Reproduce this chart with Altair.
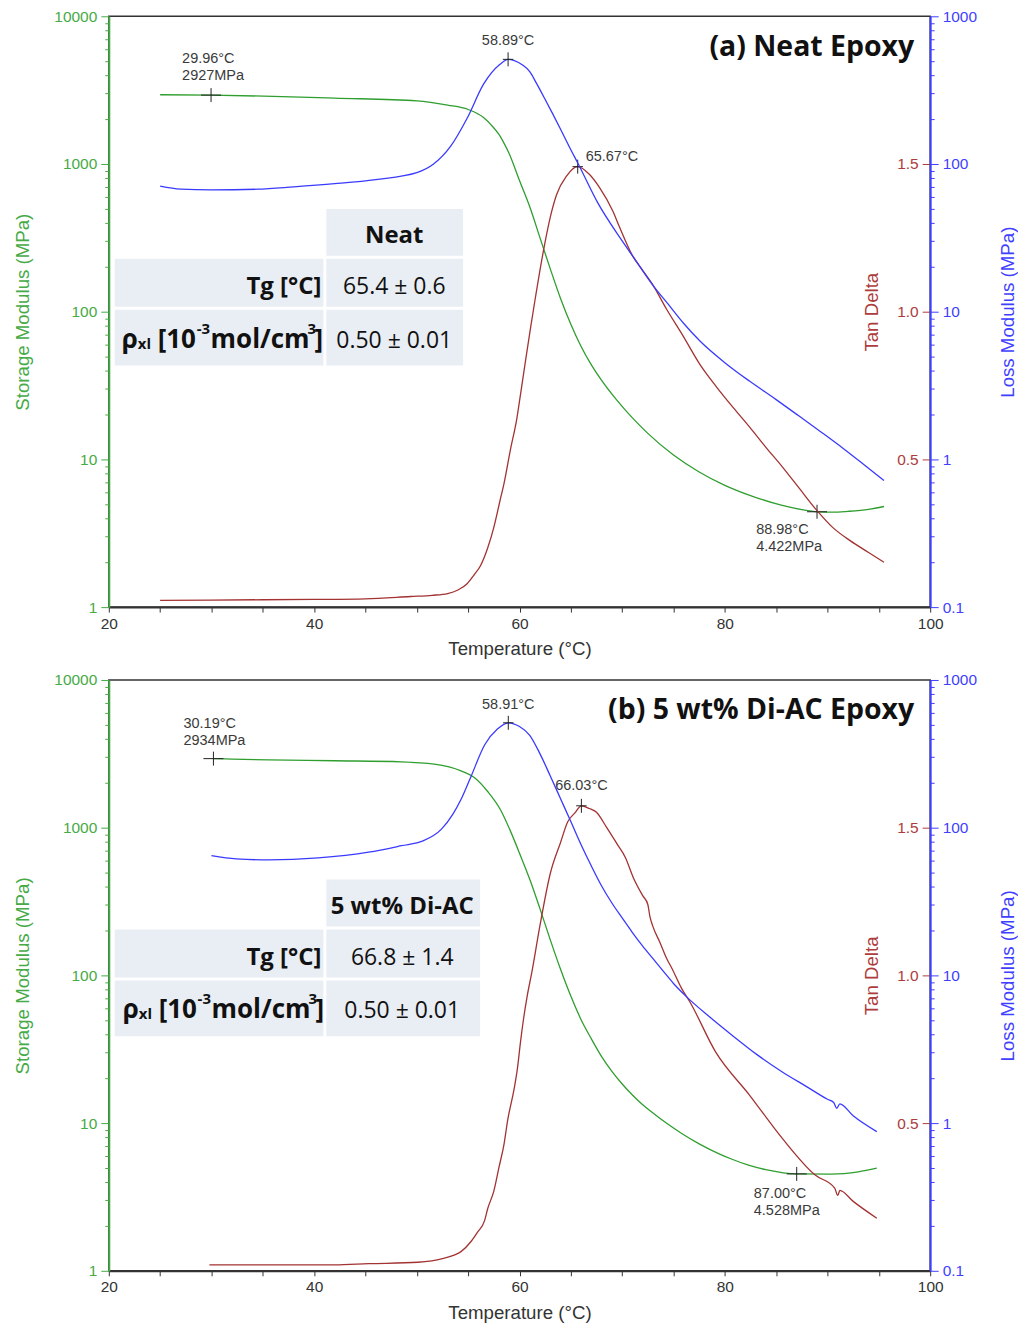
import altair as alt
import pandas as pd

# ---------------- data ----------------
# (a) Neat epoxy
a_storage_T = [25, 30, 36, 42, 50, 53, 55, 56.5, 57.3, 58, 58.5, 59, 60, 61, 62, 63, 64, 65, 66, 67, 68,
               69.5, 71, 72.5, 75, 77.5, 80, 82.5, 85.5, 87.5, 89, 90.5, 92, 94, 95.5]
a_storage_E = [2944, 2927, 2871, 2793, 2679, 2506, 2339, 2065, 1820, 1585, 1380, 1175, 773, 513, 316, 195,
               123, 82.2, 58.2, 43.7, 34.3, 25.1, 19.1, 15.0, 10.7, 8.22, 6.68, 5.69, 4.90, 4.57, 4.42,
               4.39, 4.45, 4.59, 4.80]
a_loss_T = [25, 27, 30, 34.5, 38, 42, 46, 50, 51.6, 53.3, 54.9, 56.5, 58.1, 58.89, 59.5, 60.3, 61, 61.7,
            62.4, 63.2, 64, 64.8, 65.8, 67.6, 69.8, 71.1, 73, 74.5, 76, 77.6, 80, 82.4, 85, 87.3, 89.5,
            91.5, 93.5, 95.5]
a_loss_E = [70.8, 67.6, 66.8, 67.5, 70.0, 73.6, 78.5, 87.3, 99.5, 132, 204, 347, 473, 511, 501, 468, 422,
            347, 282, 221, 172, 133, 97.7, 55.0, 31.6, 23.4, 15.1, 11.2, 8.32, 6.31, 4.52, 3.39, 2.54,
            1.95, 1.51, 1.19, 0.927, 0.719]
a_tan_T = [25, 30, 35, 40, 45, 49.4, 51.5, 53, 54, 54.9, 55.6, 56.2, 56.9, 57.5, 58.1, 58.5, 59.1, 59.75,
           60.1, 60.7, 61.1, 61.5, 62.3, 63.0, 63.6, 64.6, 65.67, 66.8, 67.8, 69.1, 69.7, 71.0, 72.0,
           73.0, 74.3, 75.9, 77.6, 79.2, 80.8, 82.4, 84.0, 85.6, 87.3, 88.9, 90.5, 92.2, 94.0, 95.5]
a_tan_D = [0.023, 0.024, 0.025, 0.026, 0.028, 0.036, 0.040, 0.046, 0.058, 0.079, 0.11, 0.14, 0.20, 0.27,
           0.36, 0.42, 0.53, 0.64, 0.72, 0.86, 0.95, 1.037, 1.20, 1.32, 1.395, 1.46, 1.491, 1.465, 1.42,
           1.34, 1.29, 1.19, 1.14, 1.09, 1.01, 0.92, 0.82, 0.745, 0.676, 0.61, 0.541, 0.475, 0.40, 0.33,
           0.27, 0.225, 0.185, 0.152]

# (b) 5 wt% Di-AC epoxy
b_storage_T = [30.19, 32, 35.6, 42, 48.5, 51.7, 54.3, 55.6, 56.9, 58.2, 59.1, 60.1, 61, 62, 63, 64, 65, 66,
               67, 68, 69, 70, 71, 72, 73, 74.3, 75.8, 77.5, 79.5, 80.7, 82.3, 84, 87, 90.4, 93, 94.8]
b_storage_E = [2934, 2911, 2877, 2838, 2793, 2692, 2427, 2188, 1758, 1303, 955, 646, 447, 282, 174, 110,
               72.4, 50.1, 37.2, 28.2, 22.4, 18.4, 15.5, 13.3, 11.7, 10.0, 8.51, 7.24, 6.17, 5.69, 5.19,
               4.84, 4.53, 4.52, 4.68, 4.95]
b_loss_T = [30, 32.4, 35.6, 40.4, 45.3, 48.5, 50.6, 52.4, 53.5, 54.3, 55.3, 56.6, 57.85, 58.91, 60, 61, 62,
            63, 64, 65, 66, 67, 68, 69, 70, 71, 72, 73, 74, 75, 76.2, 78.5, 80.7, 83.1, 85.6, 88, 90,
            90.6, 90.9, 91.2, 92.5, 94.8]
b_loss_E = [64.7, 61.5, 60.5, 62.4, 68.2, 75.5, 81.3, 97.7, 123, 155, 224, 363, 465, 513, 484, 422, 316,
            224, 157, 110, 76.7, 55.0, 40.3, 30.9, 24.5, 19.5, 15.8, 13.0, 10.7, 8.81, 7.24, 5.25, 3.94,
            2.92, 2.22, 1.76, 1.45, 1.38, 1.26, 1.35, 1.12, 0.875]
b_tan_T = [29.8, 35, 42, 45.3, 50.1, 52.7, 53.7, 54.3, 55.3, 55.9, 56.6, 56.9, 57.5, 58.0, 58.5, 58.85,
           59.5, 59.8, 60.1, 60.4, 60.75, 61.2, 62.0, 63.0, 64.0, 64.7, 65.4, 66.03, 66.8, 67.5, 68.5,
           69.5, 70.3, 71.1, 72.0, 72.5, 72.7, 73.0, 73.7, 74.3, 74.9, 75.8, 76.6, 79.1, 82.4, 85.6,
           88.8, 90.7, 91.0, 91.2, 92.5, 94.8]
b_tan_D = [0.020, 0.020, 0.020, 0.024, 0.029, 0.043, 0.054, 0.065, 0.10, 0.13, 0.17, 0.21, 0.27, 0.35,
           0.43, 0.51, 0.62, 0.685, 0.775, 0.854, 0.93, 1.01, 1.17, 1.345, 1.45, 1.52, 1.55, 1.574,
           1.565, 1.552, 1.50, 1.445, 1.40, 1.33, 1.27, 1.24, 1.20, 1.165, 1.11, 1.06, 1.02, 0.955,
           0.91, 0.741, 0.595, 0.448, 0.324, 0.28, 0.255, 0.272, 0.235, 0.178]

# marked points (temperature, value, label)
a_storage_marks = [(29.96, 2927, "29.96°C\n2927MPa"), (88.98, 4.422, "88.98°C\n4.422MPa")]
a_loss_mark = (58.89, 511, "58.89°C")
a_tan_mark = (65.67, 1.491, "65.67°C")
b_storage_marks = [(30.19, 2934, "30.19°C\n2934MPa"), (87.00, 4.528, "87.00°C\n4.528MPa")]
b_loss_mark = (58.91, 513, "58.91°C")
b_tan_mark = (66.03, 1.574, "66.03°C")

# inset tables
a_title = "(a) Neat Epoxy"
b_title = "(b) 5 wt% Di-AC Epoxy"
a_header, a_tg, a_rho = "Neat", "65.4 ± 0.6", "0.50 ± 0.01"
b_header, b_tg, b_rho = "5 wt% Di-AC", "66.8 ± 1.4", "0.50 ± 0.01"
tg_label = "Tg [°C]"
rho_pieces = ["ρ", "xl", "[10", "-3", "mol/cm", "3", "]"]

# ---------------- styling ----------------
W, H = 823, 592
GREEN_LINE, GREEN_AX = "#2f9e2f", "#46aa46"
RED_LINE, RED_AX = "#a33232", "#ad3c3c"
BLUE_LINE, BLUE_AX = "#3a3aff", "#3f3fff"
DARK = "#333333"
CELL = "#e9edf4"
AXFONT = "Liberation Sans"
TFONT = "Open Sans"

x_scale = alt.Scale(domain=[20, 100], nice=False, zero=False)
x_axis = alt.Axis(values=list(range(20, 101, 5)),
                  labelExpr="datum.value % 20 == 0 ? datum.label : ''",
                  title="Temperature (°C)", tickSize=5, labelPadding=4, domainColor=DARK,
                  domainWidth=2, tickColor=DARK, labelColor=DARK, titleColor=DARK, titlePadding=8)


def X():
    return alt.X("T:Q", scale=x_scale, axis=x_axis)


st_scale = alt.Scale(type="log", domain=[1, 10000], nice=False)
st_axis = alt.Axis(orient="left", values=[1, 10, 100, 1000, 10000], format="~g", tickSize=8,
                   labelPadding=4, domainColor=GREEN_AX, domainWidth=2, tickColor=GREEN_AX,
                   labelColor=GREEN_AX, title="Storage Modulus (MPa)", titleColor=GREEN_AX,
                   titlePadding=21)
st_minor = alt.Axis(orient="left", values=[m * 10 ** k for k in range(0, 4) for m in range(2, 10)],
                    labels=False, domain=False, tickSize=4, tickColor=GREEN_AX, title=None)

td_scale = alt.Scale(domain=[0, 2], nice=False, zero=False)
td_axis = alt.Axis(orient="left", offset=-W, values=[0.5, 1.0, 1.5], format=".1f", tickSize=8,
                   labelPadding=4, domain=False, tickColor=RED_AX, labelColor=RED_AX,
                   title="Tan Delta", titleColor=RED_AX, titlePadding=15)

lo_scale = alt.Scale(type="log", domain=[0.1, 1000], nice=False)
lo_axis = alt.Axis(orient="right", values=[0.1, 1, 10, 100, 1000], format="~g", tickSize=8,
                   labelPadding=4, domainColor=BLUE_AX, domainWidth=2, tickColor=BLUE_AX,
                   labelColor=BLUE_AX, title="Loss Modulus (MPa)", titleColor=BLUE_AX,
                   titleAngle=270, titleBaseline="top", titlePadding=22)
lo_minor = alt.Axis(orient="right", values=[round(m * 10 ** k, 6) for k in range(-1, 3) for m in range(2, 10)],
                    labels=False, domain=False, tickSize=4, tickColor=BLUE_AX, title=None)

CROSS_WIDE = "M-1,0L1,0M0,-0.7L0,0.7"
CROSS = "M-0.75,0L0.75,0M0,-1L0,1"


def dummy():
    return alt.Chart(alt.Data(values=[{"d": 0}]))


def line(T, V, y_enc, color):
    return alt.Chart(pd.DataFrame({"T": T, "v": V})).mark_line(
        color=color, strokeWidth=1.3, interpolate="monotone").encode(x=X(), y=y_enc)


def marker(T, V, y_enc, shape, size):
    return alt.Chart(pd.DataFrame({"T": [T], "v": [V]})).mark_point(
        shape=shape, size=size, filled=False, color="#222", strokeWidth=1, opacity=1
    ).encode(x=X(), y=y_enc)


def note(T, V, label, y_enc, align, dx, dy, baseline):
    return alt.Chart(pd.DataFrame({"T": [T], "v": [V], "label": [label]})).mark_text(
        align=align, baseline=baseline, dx=dx, dy=dy, lineBreak="\n", lineHeight=17,
        font=AXFONT, fontSize=14.5, color="#3a3a3a").encode(x=X(), y=y_enc, text="label:N")


def invisible(y_enc):
    return alt.Chart(pd.DataFrame({"v": [10.0]})).mark_point(opacity=0).encode(y=y_enc)


def rect(x0, y0, x1, y1):
    return dummy().mark_rect(color=CELL).encode(
        x=alt.value(x0), x2=alt.value(x1), y=alt.value(y0), y2=alt.value(y1))


def label(txt, x, y, align, size, weight):
    return dummy().mark_text(align=align, baseline="alphabetic", font=TFONT, fontSize=size,
                             fontWeight=weight, color="#111").encode(
        x=alt.value(x), y=alt.value(y), text=alt.value(txt))


def table(dy, right_x1, val_cx, header, tg, rho, rho_x0, main_bl, tg_bl, head_bl):
    layers = [
        rect(218, 193 + dy, right_x1, 240 + dy),
        rect(6, 243 + dy, 215, 291 + dy),
        rect(218, 243 + dy, right_x1, 291 + dy),
        rect(6, 294 + dy, 215, 350 + dy),
        rect(218, 294 + dy, right_x1, 350 + dy),
        label(header, val_cx, head_bl, "center", 24, "bold"),
        label(tg_label, 213, tg_bl, "right", 24, "bold"),
        label(tg, val_cx, tg_bl, "center", 23, "normal"),
        label(rho, val_cx, main_bl, "center", 23, "normal"),
    ]
    offs = [0, 16, 36, 75, 89, 186, 193]
    kinds = ["main", "sub", "main", "sup", "main", "sup", "main"]
    for txt, off, kind in zip(rho_pieces, offs, kinds):
        if kind == "main":
            layers.append(label(txt, rho_x0 + off, main_bl, "left", 26, "bold"))
        elif kind == "sub":
            layers.append(label(txt, rho_x0 + off, main_bl + 1, "left", 15, "bold"))
        else:
            layers.append(label(txt, rho_x0 + off, main_bl - 14, "left", 15, "bold"))
    return layers


def panel(sT, sE, lT, lE, tT, tD, s_marks, l_mark, t_mark, s_notes, l_note, t_note, title_txt, title_y, tbl):
    y_st = alt.Y("v:Q", scale=st_scale, axis=st_axis)
    y_td = alt.Y("v:Q", scale=td_scale, axis=td_axis)
    y_lo = alt.Y("v:Q", scale=lo_scale, axis=lo_axis)

    st_layers = [line(sT, sE, y_st, GREEN_LINE)]
    for (T, V, lab), (al, dx, dy, bl) in zip(s_marks, s_notes):
        st_layers.append(marker(T, V, y_st, CROSS_WIDE, 400))
        st_layers.append(note(T, V, lab, y_st, al, dx, dy, bl))
    td_layers = [line(tT, tD, y_td, RED_LINE), marker(t_mark[0], t_mark[1], y_td, CROSS, 196),
                 note(t_mark[0], t_mark[1], t_mark[2], y_td, *t_note)]
    lo_layers = [line(lT, lE, y_lo, BLUE_LINE), marker(l_mark[0], l_mark[1], y_lo, CROSS, 196),
                 note(l_mark[0], l_mark[1], l_mark[2], y_lo, *l_note)]

    title = dummy().mark_text(align="right", baseline="alphabetic", font=TFONT, fontWeight="bold",
                              fontSize=28.5, color="#111").encode(
        x=alt.value(807), y=alt.value(title_y), text=alt.value(title_txt))

    return alt.layer(
        alt.layer(*st_layers),
        invisible(alt.Y("v:Q", scale=st_scale, axis=st_minor)),
        alt.layer(*td_layers),
        alt.layer(*lo_layers),
        invisible(alt.Y("v:Q", scale=lo_scale, axis=lo_minor)),
        *tbl,
        title,
    ).resolve_scale(y="independent").properties(width=W, height=H)


pa = panel(a_storage_T, a_storage_E, a_loss_T, a_loss_E, a_tan_T, a_tan_D,
           a_storage_marks, a_loss_mark, a_tan_mark,
           [("left", -29, -29, "bottom"), ("left", -61, 11, "top")],
           ("center", 0, -11, "bottom"), ("left", 8, -3, "bottom"),
           a_title, 40,
           table(0, 355, 286, a_header, a_tg, a_rho, 13, 332, 278, 227))

pb = panel(b_storage_T, b_storage_E, b_loss_T, b_loss_E, b_tan_T, b_tan_D,
           b_storage_marks, b_loss_mark, b_tan_mark,
           [("left", -30, -28, "bottom"), ("left", -43, 13, "top")],
           ("center", 0, -11, "bottom"), ("center", 0, -13, "bottom"),
           b_title, 39,
           table(7, 372, 294, b_header, b_tg, b_rho, 14, 339, 286, 234))

chart = alt.vconcat(pa, pb, spacing=13).properties(
    padding={"left": 5, "top": -1, "right": 0, "bottom": 0}
).configure_axis(
    labelFont=AXFONT, titleFont=AXFONT, labelFontSize=15.5, titleFontSize=18.7,
    titleFontWeight="normal", grid=False, labelFlush=False, labelOverlap=False
).configure_view(stroke="#333333", strokeWidth=1.5)

chart.save("out.html", embed_options={"renderer": "svg", "actions": False})
